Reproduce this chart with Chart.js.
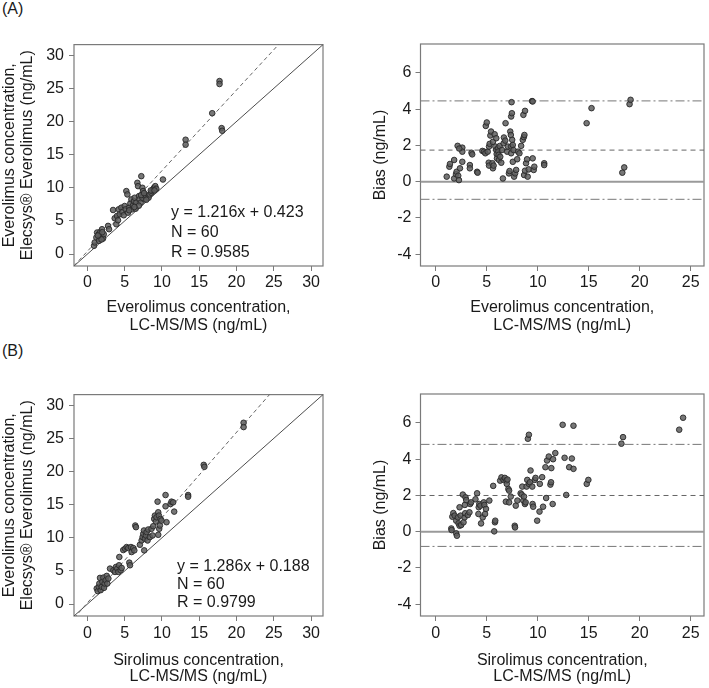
<!DOCTYPE html>
<html>
<head>
<meta charset="utf-8">
<script src="https://cdn.jsdelivr.net/npm/chart.js@4.4.0/dist/chart.umd.min.js"></script>
<style>
  body { margin: 0; background: #fff; width: 709px; height: 688px; overflow: hidden; position: relative;
         font-family: "Liberation Sans", Arial, sans-serif; color: #1a1a1a; }
  .panel { position: absolute; }
  .tag { position: absolute; font-size: 16px; line-height: 20px; }
  .stats { position: absolute; font-size: 16px; white-space: nowrap; }
</style>
</head>
<body>
<div class="tag" style="left:2px;top:-1px">(A)</div>
<div class="tag" style="left:2px;top:341px">(B)</div>

<div class="panel" style="left:0;top:30px"><canvas id="aLeft" width="340" height="320"></canvas></div>
<div class="panel" style="left:340px;top:30px"><canvas id="aRight" width="369" height="320"></canvas></div>
<div class="panel" style="left:0;top:380px"><canvas id="bLeft" width="340" height="320"></canvas></div>
<div class="panel" style="left:340px;top:380px"><canvas id="bRight" width="369" height="320"></canvas></div>

<div class="stats" style="left:171px;top:202px;line-height:20px">y = 1.216x + 0.423<br>N = 60<br>R = 0.9585</div>
<div class="stats" style="left:177px;top:557px;line-height:18px">y = 1.286x + 0.188<br>N = 60<br>R = 0.9799</div>

<script>
// ---- data ----
// (A) everolimus samples: LC-MS/MS vs Elecsys
var aScatterX = [0.89,0.98,1.2,1.3,1.52,1.65,1.74,1.88,1.96,2.1,2.19,1.56,2.77,2.9,3.44,3.66,3.88,3.97,4.2,4.33,
  4.55,4.69,4.87,5.0,5.22,5.36,5.13,5.45,5.58,5.76,5.9,6.03,6.12,6.25,6.34,6.47,6.56,6.7,6.79,6.92,
  7.0,7.14,7.23,7.37,7.46,7.54,7.68,7.37,7.77,8.2,8.35,8.57,8.7,8.8,8.93,9.1,9.24,10.13,13.17,13.17,
  16.74,17.72,17.72,18.0,18.08,6.9,7.2,7.6,5.6,6.3,4.1,8.5,9.0,7.9,1.9,1.4,2.0];
var aScatterY = [1.25,1.75,2.5,3.25,3.0,2.25,3.35,2.65,3.75,2.35,3.0,2.0,4.25,3.75,6.65,5.4,4.5,5.75,6.75,6.0,
  7.0,6.35,5.85,7.25,9.5,9.0,6.75,6.25,7.0,7.65,8.25,6.75,7.35,8.0,8.5,6.85,7.75,10.75,10.25,8.75,
  8.25,7.75,11.75,10.0,9.5,9.0,8.25,8.5,8.75,8.5,9.0,9.25,9.5,9.75,10.0,10.25,9.85,11.25,17.25,16.5,
  21.25,26.1,25.65,19.0,18.6,7.3,8.9,9.2,6.6,7.1,5.1,9.6,9.6,8.2,2.2,2.8,3.3];
var aFit = { slope: 1.216, intercept: 0.423 };

// (A) Bland-Altman
var aBiasX = [1.07,1.33,1.39,1.8,1.8,1.98,2.04,2.14,2.2,2.27,2.37,2.6,2.6,2.6,2.3,3.34,3.34,3.5,3.57,4.05,
  4.1,4.57,4.73,4.86,4.9,5.0,5.09,5.19,5.22,5.22,5.28,5.35,5.42,5.55,5.6,5.67,5.6,5.77,5.84,5.93,
  5.93,5.97,6.0,6.1,6.13,6.16,6.19,6.26,6.32,6.42,6.49,6.58,6.65,6.68,6.81,6.84,7.0,7.07,7.17,7.23,
  7.3,7.36,7.39,7.46,7.43,7.39,7.39,7.49,7.55,7.55,7.62,7.68,7.78,7.88,7.98,8.07,8.2,8.37,8.53,8.63,
  8.69,8.59,8.75,8.66,8.75,8.85,8.95,9.01,9.11,9.44,9.5,9.5,9.6,9.66,10.63,10.63,14.79,15.27,18.29,18.48,
  19.0,19.1];
var aBiasY = [0.28,0.83,0.98,1.2,0.18,0.42,0.55,1.98,0.33,0.09,0.74,1.88,1.66,1.1,1.83,0.92,0.74,1.6,1.51,0.55,
  0.5,1.7,1.66,1.57,3.08,3.27,1.66,1.05,0.89,1.94,2.09,2.55,2.77,1.02,0.74,0.89,2.2,2.62,1.94,2.4,
  1.75,1.53,1.29,1.85,1.66,1.48,1.2,1.97,1.38,1.05,1.75,0.18,2.12,2.44,2.27,3.23,1.66,1.94,0.46,0.59,
  2.77,2.58,3.6,3.78,4.39,1.94,1.57,2.31,2.03,1.1,1.75,0.28,0.46,0.65,1.24,1.66,1.57,1.98,2.31,2.46,
  2.58,3.69,3.91,0.37,0.61,1.02,1.24,0.28,0.68,4.45,4.43,1.29,0.65,0.83,1.02,0.92,3.23,4.06,0.5,0.79,
  4.28,4.52];
var aBiasLines = { mean: 1.745, upper: 4.46, lower: -0.97 };

// (B) sirolimus samples: LC-MS/MS vs Elecsys
var bScatterX = [1.25,1.38,1.52,1.6,1.69,1.78,1.92,2.0,2.14,2.23,2.32,2.45,2.59,2.67,2.81,3.03,3.48,3.7,3.83,4.01,
  4.15,4.24,4.28,4.46,4.59,4.81,5.04,5.26,5.48,5.62,5.71,5.84,5.93,6.15,6.29,6.42,6.51,7.04,7.27,7.4,
  7.49,7.58,7.62,7.71,7.85,7.94,8.07,8.16,8.38,8.6,8.74,8.83,8.96,9.05,9.18,9.27,9.41,9.5,9.59,9.5,
  9.63,9.72,9.81,9.94,10.48,10.48,10.61,11.15,11.28,11.5,11.64,13.51,13.51,15.6,15.69,20.95,20.95];
var bScatterY = [2.35,1.95,2.6,3.1,3.95,2.1,2.6,3.35,4.0,2.45,3.1,3.6,4.25,3.1,3.85,5.35,5.1,4.85,5.6,5.35,
  4.85,5.85,7.1,5.1,5.45,8.15,8.35,8.6,8.45,6.25,5.85,8.6,7.85,8.45,8.1,11.85,11.6,8.95,9.6,10.1,
  10.6,11.1,8.1,9.85,10.35,10.85,9.6,11.25,10.1,11.35,10.35,11.75,12.85,13.35,12.45,13.1,15.45,13.85,13.35,10.45,
  11.35,11.85,12.85,12.6,16.45,14.75,12.35,15.1,15.45,15.35,13.95,16.45,16.2,21.0,20.7,27.35,26.7];
var bFit = { slope: 1.286, intercept: 0.188 };

// (B) Bland-Altman
var bBiasX = [1.52,1.55,1.62,1.72,1.85,2.0,2.0,2.07,2.17,2.23,2.33,2.33,2.43,2.49,2.65,2.72,2.82,2.85,2.91,2.98,
  2.88,3.14,3.3,3.37,3.46,3.89,4.05,4.18,4.21,4.27,4.37,4.44,4.6,4.7,4.76,4.83,4.92,5.25,5.63,5.73,
  5.8,5.83,6.31,6.44,6.64,6.77,6.87,6.93,6.96,7.03,7.12,7.19,7.19,7.35,7.74,7.77,7.84,8.0,8.32,8.42,
  8.48,8.58,8.65,8.74,8.81,8.9,8.97,9.03,9.13,9.13,9.23,9.29,9.46,9.49,9.55,9.71,9.78,9.94,10.17,10.2,
  10.43,10.52,10.75,10.82,10.91,11.08,11.24,11.3,11.33,11.46,11.5,11.72,12.44,12.63,12.79,13.08,13.34,13.5,13.5,14.8,
  14.96,18.2,18.36,23.87,24.25];
var bBiasY = [0.18,0.09,0.83,1.03,0.89,0.61,-0.09,-0.22,0.79,0.46,1.35,0.33,0.89,0.37,2.05,0.52,0.79,1.48,1.9,1.75,
  1.02,0.92,1.07,1.53,1.62,1.79,2.12,0.98,1.35,1.53,1.44,0.46,0.79,1.62,1.48,0.98,1.26,1.72,2.53,0.02,
  0.52,0.61,2.82,3.0,2.86,2.97,1.66,2.82,2.64,2.88,2.36,2.27,1.62,1.94,0.33,0.24,1.44,1.72,2.12,2.05,
  2.49,1.72,1.94,1.53,1.62,2.49,2.86,5.13,5.35,2.64,2.73,3.38,2.49,1.53,1.38,2.86,2.97,0.61,1.11,2.64,
  3.01,1.38,3.56,1.86,3.93,4.15,2.6,2.73,3.51,1.53,4.0,4.34,5.9,4.08,2.03,3.56,4.04,3.47,5.85,2.64,
  2.86,4.86,5.22,5.63,6.29];
var bBiasLines = { mean: 2.0, upper: 4.82, lower: -0.81 };

// ticks / ranges
var concTicks = [0, 5, 10, 15, 20, 25, 30];
var biasXTicks = [0, 5, 10, 15, 20, 25];
var biasYTicks = [-4, -2, 0, 2, 4, 6];
var concRange = [-1.8, 31.6];
var biasXRange = [-1.5, 26.3];
var biasYRange = [-4.65, 7.6];

var FONT = "'Liberation Sans', Arial, sans-serif";
var INK = "#1a1a1a";

// x-title / tick spacing differs a little between the two rows
var rowA = { tickPad: 2, titleGap: 14.7, titleLh: 1.16 };
var rowB = { tickPad: 3.4, titleGap: 15.3, titleLh: 1.0 };

function pts(xs, ys) {
  return xs.map((x, i) => ({ x: x, y: ys[i] }));
}

// grey box round the plot area
const frame = {
  id: "frame",
  beforeDatasetsDraw(chart) {
    const { ctx, chartArea: a } = chart;
    ctx.save();
    ctx.strokeStyle = "#7a7a7a";
    ctx.lineWidth = 1.2;
    ctx.strokeRect(a.left, a.top, a.right - a.left, a.bottom - a.top);
    ctx.restore();
  },
};

function axis(o) {
  return {
    type: "linear",
    position: o.position,
    min: o.range[0],
    max: o.range[1],
    afterBuildTicks: (s) => { s.ticks = o.ticks.map((v) => ({ value: v })); },
    afterFit: (s) => {
      if (o.position === "left") s.width = o.size;
      else s.height = o.size;
    },
    grid: { drawOnChartArea: false, drawTicks: true, tickLength: 5, color: "#7a7a7a" },
    border: { display: false },
    ticks: { color: INK, font: { family: FONT, size: 16 }, padding: o.labelPad, autoSkip: false, maxRotation: 0 },
    title: { display: true, text: o.title, color: INK, font: { family: FONT, size: 16, lineHeight: o.lh || 1.16 }, padding: o.titlePad },
  };
}

function xAxis(range, ticks, xTitle, row) {
  return axis({ position: "bottom", range: range, ticks: ticks, size: 84, labelPad: row.tickPad, lh: row.titleLh,
                title: [xTitle, "LC-MS/MS (ng/mL)"], titlePad: { top: 0, bottom: row.titleGap } });
}

function dots(data) {
  return {
    data: data,
    pointRadius: 2.8,
    pointBackgroundColor: "rgba(95,95,95,0.85)",
    pointBorderColor: "rgba(40,40,40,0.9)",
    pointBorderWidth: 1,
    order: 0,
  };
}

function hline(x0, x1, y, color, width, dash) {
  return {
    data: [{ x: x0, y: y }, { x: x1, y: y }],
    showLine: true, pointRadius: 0,
    borderColor: color, borderWidth: width, borderDash: dash,
    order: 1,
  };
}

function baseOptions(pad, scales) {
  return {
    responsive: false,
    devicePixelRatio: 1,
    animation: false,
    events: [],
    layout: { padding: pad },
    plugins: { legend: { display: false }, tooltip: { enabled: false } },
    scales: scales,
  };
}

function methodChart(id, xs, ys, fit, xTitle, row) {
  var lo = concRange[0], hi = concRange[1];
  new Chart(document.getElementById(id), {
    type: "scatter",
    data: {
      datasets: [
        dots(pts(xs, ys)),
        {
          data: [{ x: lo, y: lo }, { x: hi, y: hi }],
          showLine: true, pointRadius: 0, borderColor: "#4d4d4d", borderWidth: 1, order: 2,
        },
        {
          data: [{ x: lo, y: fit.slope * lo + fit.intercept }, { x: hi, y: fit.slope * hi + fit.intercept }],
          showLine: true, pointRadius: 0, borderColor: "#666", borderWidth: 1, borderDash: [4, 3], order: 1,
        },
      ],
    },
    options: baseOptions({ left: 0, right: 17, top: 14, bottom: 0 }, {
      x: xAxis(concRange, concTicks, xTitle, row),
      y: axis({ position: "left", range: concRange, ticks: concTicks, size: 74, labelPad: 5, lh: 1.16,
                title: ["Everolimus concentration,", "Elecsys\u00AE Everolimus (ng/mL)"], titlePad: { top: 0, bottom: 0 } }),
    }),
    plugins: [frame],
  });
}

function biasChart(id, xs, ys, lines, xTitle, row) {
  var lo = biasXRange[0], hi = biasXRange[1];
  new Chart(document.getElementById(id), {
    type: "scatter",
    data: {
      datasets: [
        dots(pts(xs, ys)),
        hline(lo, hi, 0, "#9a9a9a", 2, []),
        hline(lo, hi, lines.mean, "#666", 1, [5, 4]),
        hline(lo, hi, lines.upper, "#777", 1, [9, 3, 2, 3]),
        hline(lo, hi, lines.lower, "#777", 1, [9, 3, 2, 3]),
      ],
    },
    options: baseOptions({ left: 0, right: 3, top: 14, bottom: 0 }, {
      x: xAxis(biasXRange, biasXTicks, xTitle, row),
      y: axis({ position: "left", range: biasYRange, ticks: biasYTicks, size: 80.5, labelPad: 4,
                title: "Bias (ng/mL)", titlePad: { top: 31.7, bottom: 0 } }),
    }),
    plugins: [frame],
  });
}

methodChart("aLeft", aScatterX, aScatterY, aFit, "Everolimus concentration,", rowA);
biasChart("aRight", aBiasX, aBiasY, aBiasLines, "Everolimus concentration,", rowA);
methodChart("bLeft", bScatterX, bScatterY, bFit, "Sirolimus concentration,", rowB);
biasChart("bRight", bBiasX, bBiasY, bBiasLines, "Sirolimus concentration,", rowB);
</script>
</body>
</html>
